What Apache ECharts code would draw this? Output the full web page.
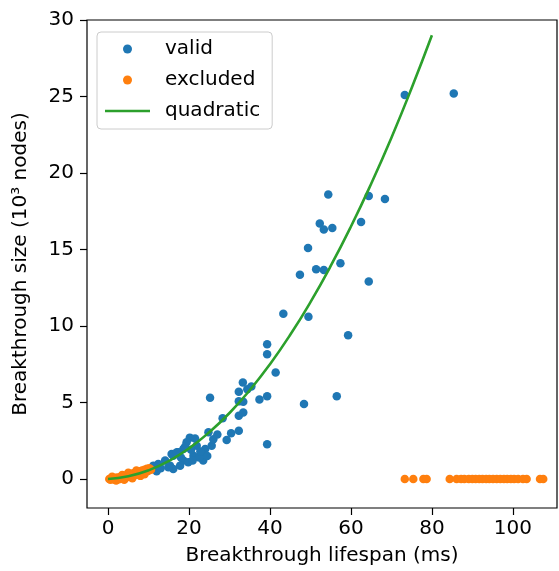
<!DOCTYPE html>
<html>
<head>
<meta charset="utf-8">
<script src="https://cdn.jsdelivr.net/npm/echarts@6/dist/echarts.min.js"></script>
<style>html,body{margin:0;padding:0;background:#fff}#c{width:559px;height:571px}</style>
</head>
<body>
<div id="c"></div>
<script>
// ---- data ----
const validX = [73.3, 85.4, 54.4, 64.4, 68.4, 52.3, 53.3, 55.4, 62.5, 49.4, 51.4, 53.3, 57.4, 47.4, 64.4, 43.3, 49.5, 59.3, 56.5, 48.4,
  39.3, 39.3, 41.4, 33.3, 32.3, 34.4, 35.4, 32.3, 33.4, 37.4, 39.3, 28.3, 32.3, 33.4, 30.4, 32.3, 29.3, 39.3, 25.2,
  20.2, 21.5, 24.8, 25.6, 24.0, 23.1, 21.9, 19.4, 18.6, 17.4, 16.1, 23.5, 21.1, 15.3, 16.1, 15.7, 14.1, 12.4, 11.2, 17.0, 18.6, 14.9, 17.8, 19.8,
  20.5, 22.5, 18.0, 13.0, 12.0, 24.5, 26.0, 27.0, 22.8, 20.9, 19.0];
const validY = [25.1, 25.2, 18.6, 18.5, 18.3, 16.7, 16.3, 16.4, 16.8, 15.1, 13.7, 13.65, 14.1, 13.35, 12.9, 10.8, 10.6, 9.4, 5.4, 4.9,
  8.8, 8.15, 6.96, 6.3, 5.7, 5.87, 6.05, 5.07, 5.04, 5.2, 5.4, 3.96, 4.13, 4.35, 2.98, 3.15, 2.54, 2.26, 5.3,
  2.7, 2.65, 3.05, 2.17, 1.96, 1.63, 2.17, 2.4, 1.96, 1.74, 1.52, 1.2, 1.52, 0.87, 0.65, 1.63, 1.2, 0.98, 0.87, 1.74, 1.2, 0.76, 0.87, 1.09,
  1.9, 1.4, 1.4, 0.7, 0.5, 1.5, 2.6, 2.9, 1.8, 1.2, 2.1];

const excludedX = [0.3, 0.6, 0.9, 1.2, 1.5, 1.8, 2.1, 2.4, 2.7, 3.0, 3.3, 3.6, 3.9, 4.2, 4.5, 4.8, 5.1, 5.4, 5.7, 6.0, 6.3, 6.6, 6.9, 7.2, 7.5, 7.8, 8.1, 8.4, 8.7, 9.0, 9.3, 9.6, 9.9, 10.2, 10.6,
  2.0, 4.0, 6.0, 8.0, 5.0, 7.0, 9.0, 3.5, 1.0,
  73.3, 75.4, 77.9, 78.7, 84.4, 86.1, 87.2, 88.0, 89.1, 90.0, 90.8, 91.7, 92.5, 93.4, 94.2, 95.1, 96.0, 96.9, 97.8, 98.6, 99.5, 100.3, 101.3, 102.5, 103.4, 106.7, 107.5];
const excludedY = [0.0, -0.05, 0.05, 0.02, -0.03, 0.08, 0.03, 0.1, -0.02, 0.12, 0.05, 0.15, 0.08, 0.2, 0.1, 0.25, 0.15, 0.3, 0.18, 0.35, 0.22, 0.4, 0.28, 0.45, 0.3, 0.5, 0.38, 0.55, 0.42, 0.6, 0.48, 0.66, 0.52, 0.7, 0.6,
  -0.1, -0.05, 0.05, 0.2, 0.4, 0.55, 0.3, 0.25, 0.15,
  0, 0, 0, 0, 0, 0, 0, 0, 0, 0, 0, 0, 0, 0, 0, 0, 0, 0, 0, 0, 0, 0, 0, 0, 0, 0, 0];

const fitX = [0, 5, 10, 15, 20, 25, 30, 35, 40, 45, 50, 55, 60, 65, 70, 75, 80];
const fitY = [0, 0.17, 0.56, 1.17, 2.0, 3.05, 4.31, 5.80, 7.5, 9.42, 11.56, 13.92, 16.5, 19.30, 22.31, 25.55, 29.0];

const xTicks = [0, 20, 40, 60, 80, 100];
const yTicks = [0, 5, 10, 15, 20, 25, 30];

const seriesNames = ['valid', 'excluded', 'quadratic'];
const colors = ['#1f77b4', '#ff7f0e', '#2ca02c'];

// ---- chart ----
const font = 'DejaVu Sans';
const chart = echarts.init(document.getElementById('c'), null, {renderer: 'canvas'});
const zip = (a, b) => a.map((v, i) => [v, b[i]]);
// thin horizontal bar icon (tiny corner specks keep the 45x9 box so the bar is not stretched)
const lineIcon = 'path://M0,0L0.01,0L0.01,0.01Z M0,3.2L45,3.2L45,5.8L0,5.8Z M44.99,9L45,9L45,8.99Z';

chart.setOption({
  animation: false,
  backgroundColor: '#fff',
  textStyle: {fontFamily: font, color: '#000'},
  grid: {left: 87, top: 20, right: 2, bottom: 62, show: true, borderColor: '#000', borderWidth: 1.2, backgroundColor: 'transparent'},
  legend: {
    left: 97, top: 32, orient: 'vertical',
    padding: [7, 12, 8, 8],
    itemWidth: 45, itemHeight: 9, itemGap: 11,
    borderColor: '#cccccc', borderWidth: 1, borderRadius: 4,
    backgroundColor: 'rgba(255,255,255,0.8)',
    textStyle: {fontFamily: font, fontSize: 20, color: '#000', padding: [0, 0, 0, 10]},
    data: [{name: seriesNames[0]}, {name: seriesNames[1]}, {name: seriesNames[2], icon: lineIcon, itemStyle: {color: colors[2]}}]
  },
  xAxis: {
    type: 'value', min: -5.2, max: 110.9,
    name: 'Breakthrough lifespan (ms)', nameLocation: 'middle', nameGap: 38,
    nameTextStyle: {fontFamily: font, fontSize: 20, color: '#000'},
    axisLine: {show: false, onZero: false},
    axisTick: {show: true, inside: false, length: 7, customValues: xTicks, lineStyle: {color: '#000', width: 1.2}},
    axisLabel: {customValues: xTicks, fontFamily: font, fontSize: 20, color: '#000', margin: 11},
    splitLine: {show: false}
  },
  yAxis: {
    type: 'value', min: -1.9, max: 30,
    name: 'Breakthrough size (10³ nodes)', nameLocation: 'middle', nameGap: 56, nameRotate: 90,
    nameTextStyle: {fontFamily: font, fontSize: 20, color: '#000'},
    axisLine: {show: false, onZero: false},
    axisTick: {show: true, inside: false, length: 7, customValues: yTicks, lineStyle: {color: '#000', width: 1.2}},
    axisLabel: {customValues: yTicks, fontFamily: font, fontSize: 20, color: '#000', margin: 13},
    splitLine: {show: false}
  },
  series: [
    {name: seriesNames[0], type: 'scatter', data: zip(validX, validY), symbolSize: 8.5, itemStyle: {color: colors[0], opacity: 1}, z: 2},
    {name: seriesNames[1], type: 'scatter', data: zip(excludedX, excludedY), symbolSize: 8.5, itemStyle: {color: colors[1], opacity: 1}, z: 3},
    {name: seriesNames[2], type: 'line', data: zip(fitX, fitY), smooth: true, symbol: 'none', lineStyle: {color: colors[2], width: 2.6}, itemStyle: {color: colors[2]}, z: 4}
  ]
});
</script>
</body>
</html>
